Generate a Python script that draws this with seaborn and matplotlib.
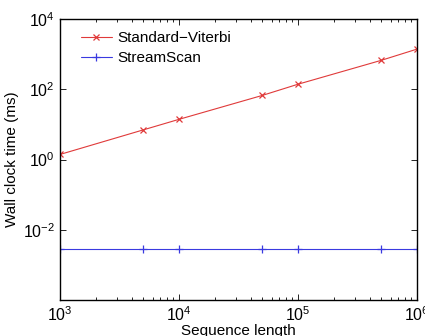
import numpy as np
import pandas as pd
import matplotlib
matplotlib.use('Agg')
import matplotlib.pyplot as plt
import seaborn as sns

seq_len = [1e3, 5e3, 1e4, 5e4, 1e5, 5e5, 1e6]
viterbi_ms = [1.4, 7.0, 14.0, 67.0, 140.0, 670.0, 1400.0]
streamscan_ms = [0.0028, 0.0028, 0.0028, 0.0028, 0.0028, 0.0028, 0.0028]

sns.set_style('ticks', {'axes.edgecolor': 'black', 'text.color': 'black',
                        'xtick.color': 'black', 'ytick.color': 'black',
                        'axes.labelcolor': 'black'})
plt.rcParams['font.family'] = ['Liberation Sans', 'DejaVu Sans']
plt.rcParams['mathtext.fontset'] = 'custom'
plt.rcParams['mathtext.rm'] = 'Liberation Sans'

fig = plt.figure(figsize=(4.25, 3.36), dpi=100)
ax = fig.add_axes([0.141, 0.107, 0.840, 0.836])

red = '#e03a3a'
blue = '#3a3ae0'
sns.lineplot(x=seq_len, y=viterbi_ms, color=red, marker='x', markersize=4,
             markeredgecolor=red, markeredgewidth=0.9, linewidth=0.8,
             label='Standard\u2212Viterbi', ax=ax)
sns.lineplot(x=seq_len, y=streamscan_ms, color=blue, marker='+', markersize=5.5,
             markeredgecolor=blue, markeredgewidth=0.9, linewidth=0.8,
             label='StreamScan', ax=ax)

ax.set_xscale('log')
ax.set_yscale('log')
ax.set_xlim(1e3, 1e6)
ax.set_ylim(1e-4, 1e4)
ax.set_yticks([1e-2, 1e0, 1e2, 1e4])
ax.yaxis.set_minor_locator(matplotlib.ticker.NullLocator())
ax.set_xticks([1e3, 1e4, 1e5, 1e6])
ax.tick_params(which='both', direction='in', top=True, right=True, labelsize=11.5, width=0.6)
ax.tick_params(which='major', length=4)
ax.tick_params(which='minor', length=2)
for s in ax.spines.values():
    s.set_linewidth(1.0)

ax.set_xlabel('Sequence length', fontsize=11, labelpad=0)
ax.set_ylabel('Wall clock time (ms)', fontsize=11, labelpad=3)
ax.legend(loc='upper left', bbox_to_anchor=(0.025, 1.0), frameon=False, fontsize=11,
          handlelength=2.0, handletextpad=0.35, borderaxespad=0.4, labelspacing=0.4)

fig.savefig('out.png', dpi=100)
